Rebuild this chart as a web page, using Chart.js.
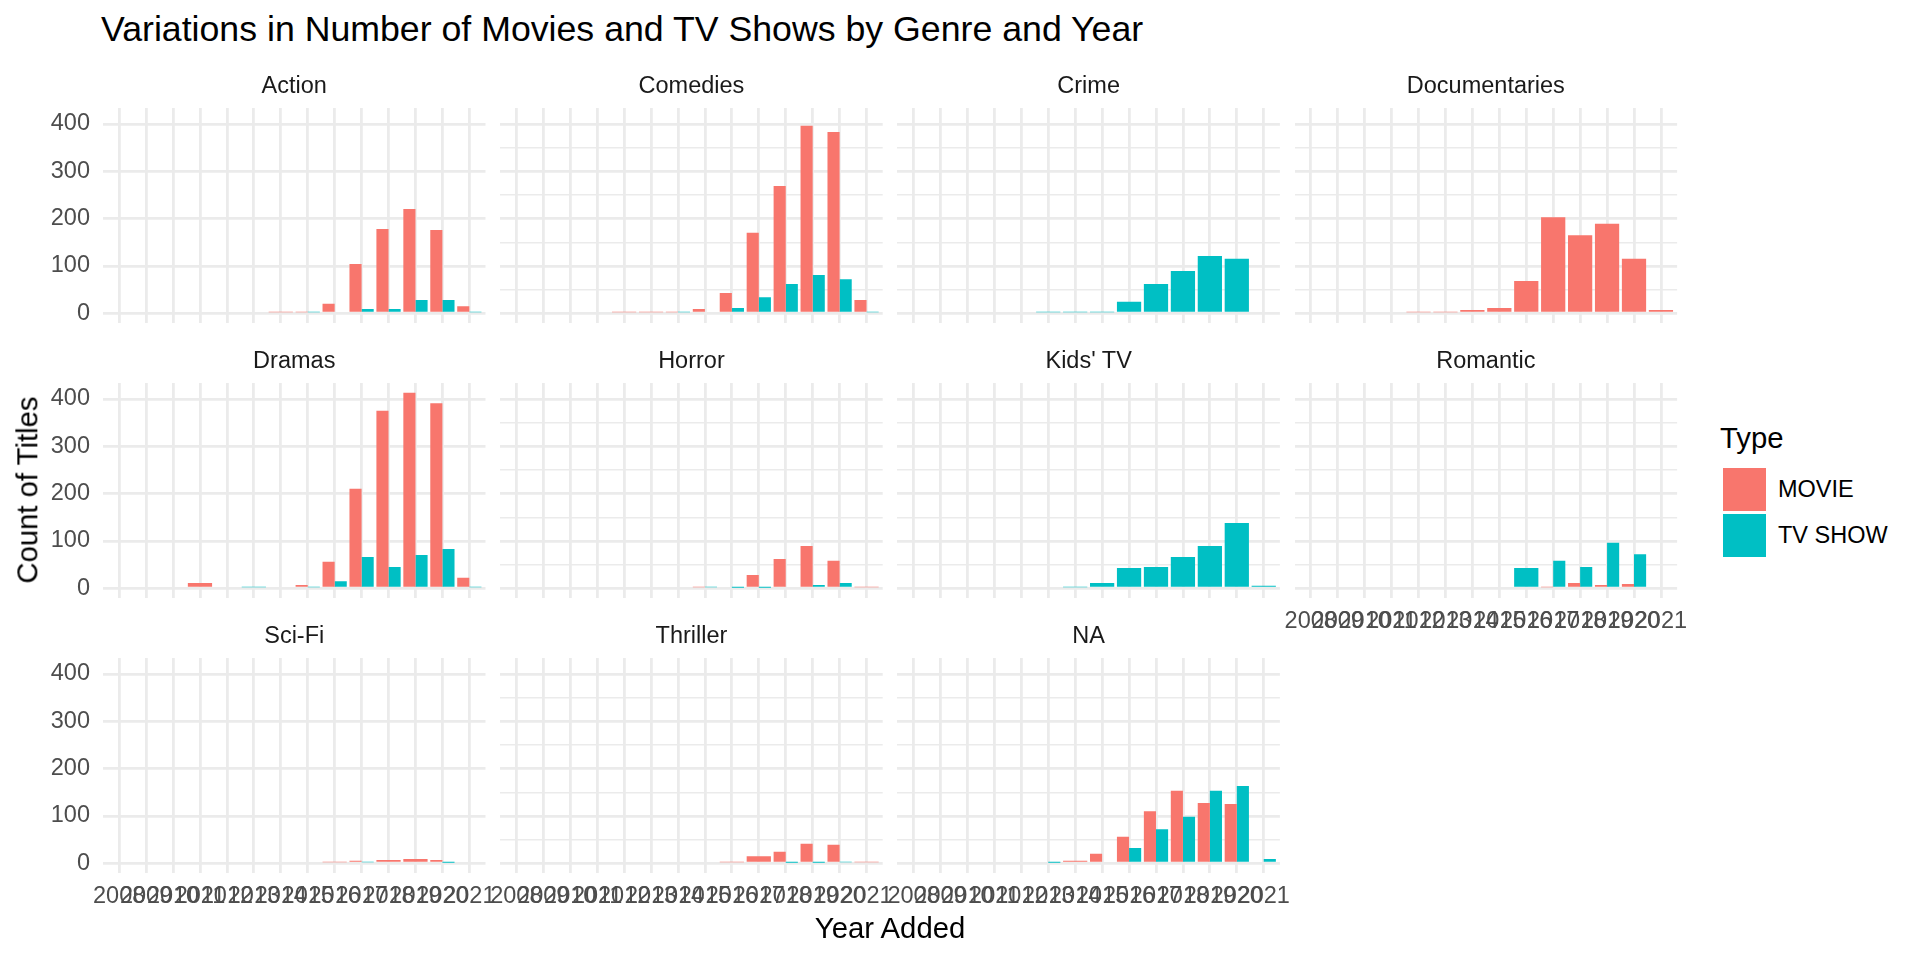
<!DOCTYPE html>
<html lang="en">
<head>
<meta charset="utf-8">
<title>Variations in Number of Movies and TV Shows by Genre and Year</title>
<script src="https://cdn.jsdelivr.net/npm/chart.js@4.4.1/dist/chart.umd.min.js"></script>
<style>
  html, body { margin: 0; padding: 0; background: #ffffff; }
  #plot {
    position: relative;
    width: 1920px;
    height: 960px;
    overflow: hidden;
    font-family: "Liberation Sans", Arial, sans-serif;
  }
  #plot canvas { position: absolute; }
  .txt { position: absolute; white-space: nowrap; }
  .key { position: absolute; }
</style>
</head>
<body>
<div id="plot"></div>
<script>
// years on the x axis (one bar group per year)
const years = [2008, 2009, 2010, 2011, 2012, 2013, 2014, 2015, 2016, 2017, 2018, 2019, 2020, 2021];
const yTicks = [0, 50, 100, 150, 200, 250, 300, 350, 400];

const genres = ['Action', 'Comedies', 'Crime', 'Documentaries', 'Dramas', 'Horror',
                "Kids' TV", 'Romantic', 'Sci-Fi', 'Thriller', 'NA'];
const types = ['MOVIE', 'TV SHOW'];

// counts per year, null = no titles of that type in that year
const actionMovie        = [null, null, null, null, null, null, 2, 2, 20, 104, 178, 220, 176, 15];
const actionTv           = [null, null, null, null, null, null, null, 2, 3, 9, 9, 28, 28, 2];
const comediesMovie      = [null, null, null, null, 2, 2, 2, 9, 43, 170, 269, 396, 383, 28];
const comediesTv         = [null, null, null, null, null, null, 2, 3, 11, 34, 62, 81, 72, 2];
const crimeMovie         = [null, null, null, null, null, null, null, null, null, null, null, null, null, null];
const crimeTv            = [null, null, null, null, null, 2, 2, 2, 24, 62, 89, 121, 115, 3];
const documentariesMovie = [null, null, null, null, 2, 2, 7, 11, 68, 203, 165, 189, 115, 7];
const documentariesTv    = [null, null, null, null, null, null, null, null, null, null, null, null, null, null];
const dramasMovie        = [null, null, null, 11, null, null, null, 7, 56, 210, 375, 413, 391, 22];
const dramasTv           = [null, null, null, null, null, 2, null, 2, 15, 66, 45, 70, 83, 2];
const horrorMovie        = [null, null, null, null, null, null, null, 2, 3, 28, 62, 89, 58, 2];
const horrorTv           = [null, null, null, null, null, null, null, 2, 1, 1, 3, 7, 11, null];
const kidsMovie          = [null, null, null, null, null, null, null, null, null, null, null, null, null, null];
const kidsTv             = [null, null, null, null, null, null, 2, 11, 43, 45, 66, 89, 138, 5];
const romanticMovie      = [null, null, null, null, null, null, null, null, null, 2, 11, 7, 9, null];
const romanticTv         = [null, null, null, null, null, null, null, null, 43, 58, 45, 96, 72, null];
const sciFiMovie         = [null, null, null, null, null, null, null, null, 2, 5, 7, 9, 7, null];
const sciFiTv            = [null, null, null, null, null, null, null, null, null, 2, null, null, 1, null];
const thrillerMovie      = [null, null, null, null, null, null, null, null, 2, 15, 24, 41, 39, 2];
const thrillerTv         = [null, null, null, null, null, null, null, null, null, null, 1, 1, 2, null];
const naMovie            = [null, null, null, null, null, 3, 5, 20, 56, 110, 153, 127, 125, 3];
const naTv               = [null, null, null, null, null, 1, null, 3, 32, 72, 98, 153, 163, 9];

const movieSeries = [actionMovie, comediesMovie, crimeMovie, documentariesMovie, dramasMovie, horrorMovie,
                     kidsMovie, romanticMovie, sciFiMovie, thrillerMovie, naMovie];
const tvSeries = [actionTv, comediesTv, crimeTv, documentariesTv, dramasTv, horrorTv,
                  kidsTv, romanticTv, sciFiTv, thrillerTv, naTv];

const colors = ['#F8766D', '#00BFC4'];
const FONT = '"Liberation Sans", Arial, sans-serif';
const plot = document.getElementById('plot');

// shared y range like facet_wrap with fixed scales (5% expansion)
const allValues = movieSeries.concat(tvSeries).flat().filter(v => v !== null);
const yMaxData = Math.max(...allValues);
const yMin = -0.05 * yMaxData;
const yMax = yMaxData * 1.05;

// panel geometry
const colLeft = [103, 500.2, 897.4, 1294.6];
const rowTop = [108, 383, 658];
const panelW = 382.5;
const panelH = 215;
const PAD = 40, YW = 60, XH = 44;

function addText(str, x, baseline, size, color, align) {
  const d = document.createElement('div');
  d.className = 'txt';
  d.textContent = str;
  d.style.fontSize = size + 'px';
  d.style.lineHeight = size + 'px';
  d.style.color = color;
  d.style.top = (baseline - 0.8465 * size) + 'px';
  d.style.left = x + 'px';
  if (align === 'center') d.style.transform = 'translateX(-50%)';
  plot.appendChild(d);
  return d;
}

function panel(i) {
  const col = i % 4, row = Math.floor(i / 4);
  const px = colLeft[col], py = rowTop[row];
  const showY = col === 0;
  const showX = row === 2 || (row === 1 && col === 3);
  const yW = showY ? YW : 0;
  const xH = showX ? XH : 0;

  const cl = Math.floor(px - PAD - yW);
  const ct = Math.floor(py - PAD);
  const cw = Math.ceil(px + panelW + PAD) - cl;
  const ch = Math.ceil(py + panelH + xH + PAD) - ct;

  const canvas = document.createElement('canvas');
  canvas.width = cw;
  canvas.height = ch;
  canvas.style.left = cl + 'px';
  canvas.style.top = ct + 'px';
  canvas.style.width = cw + 'px';
  canvas.style.height = ch + 'px';
  plot.appendChild(canvas);

  const series = [movieSeries[i], tvSeries[i]];

  new Chart(canvas, {
    type: 'bar',
    data: {
      datasets: types.map((t, k) => ({
        label: t,
        data: years.map((yr, j) => ({ x: yr, y: series[k][j] })),
        backgroundColor: colors[k],
        borderWidth: 0,
        skipNull: true,
        categoryPercentage: 0.9,
        barPercentage: 1
      }))
    },
    options: {
      responsive: false,
      animation: false,
      devicePixelRatio: 1,
      events: [],
      layout: {
        padding: {
          left: px - cl - yW,
          top: py - ct,
          right: cl + cw - (px + panelW),
          bottom: ct + ch - (py + panelH) - xH
        }
      },
      plugins: {
        legend: { display: false },
        tooltip: { enabled: false },
        title: { display: false }
      },
      scales: {
        x: {
          type: 'linear',
          min: years[0] - 0.6,
          max: years[years.length - 1] + 0.6,
          offset: false,
          afterBuildTicks: (s) => { s.ticks = years.map(v => ({ value: v })); },
          afterFit: (s) => { s.height = xH; },
          border: { display: false },
          grid: { color: '#EBEBEB', lineWidth: 2.8, drawTicks: false, offset: false },
          ticks: {
            display: showX,
            autoSkip: false,
            maxRotation: 0,
            minRotation: 0,
            padding: 9,
            color: '#4D4D4D',
            font: { family: FONT, size: 23.5 },
            callback: (v) => String(v)
          }
        },
        y: {
          type: 'linear',
          min: yMin,
          max: yMax,
          afterBuildTicks: (s) => { s.ticks = yTicks.map(v => ({ value: v })); },
          afterFit: (s) => { s.width = yW; },
          border: { display: false },
          grid: {
            color: '#EBEBEB',
            drawTicks: false,
            lineWidth: (ctx) => (ctx.tick && ctx.tick.value % 100 === 0) ? 2.8 : 1.4
          },
          ticks: {
            display: showY,
            padding: 13,
            color: '#4D4D4D',
            font: { family: FONT, size: 23.5 },
            callback: (v) => (v % 100 === 0 ? String(v) : '')
          }
        }
      }
    }
  });

  // facet strip label
  addText(genres[i], px + panelW / 2, py - 14, 23.5, '#1A1A1A', 'center');
}

genres.forEach((g, i) => panel(i));

// titles
addText('Variations in Number of Movies and TV Shows by Genre and Year', 101, 42, 35.7, '#000000');
addText('Year Added', (colLeft[0] + colLeft[3] + panelW) / 2, 938, 29.3, '#000000', 'center');

const yTitle = document.createElement('div');
yTitle.className = 'txt';
yTitle.textContent = 'Count of Titles';
yTitle.style.fontSize = '29.3px';
yTitle.style.lineHeight = '29.3px';
yTitle.style.color = '#000000';
yTitle.style.left = '27px';
yTitle.style.top = '490px';
yTitle.style.transform = 'translate(-50%, -50%) rotate(-90deg)';
plot.appendChild(yTitle);

// legend
addText('Type', 1720, 448, 29.3, '#000000');
types.forEach((t, k) => {
  const key = document.createElement('div');
  key.className = 'key';
  key.style.left = '1723px';
  key.style.top = (468 + k * 46) + 'px';
  key.style.width = '43px';
  key.style.height = '43px';
  key.style.background = colors[k];
  plot.appendChild(key);
  addText(t, 1778, 498 + k * 46, 23.5, '#000000');
});
</script>
</body>
</html>
